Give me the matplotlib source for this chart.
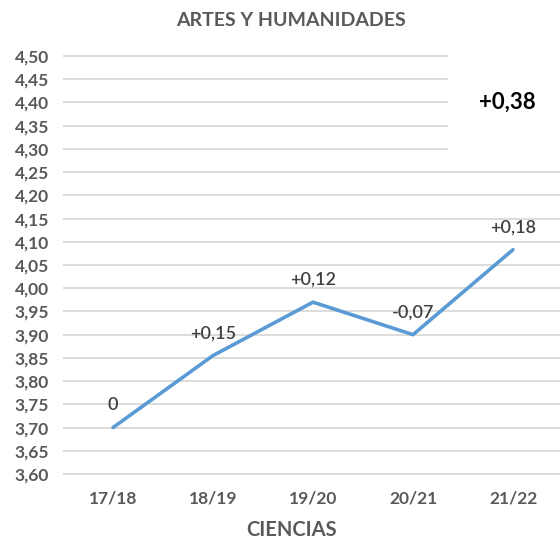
import matplotlib.pyplot as plt

cursos = ['17/18', '18/19', '19/20', '20/21', '21/22']
notas = [3.70, 3.855, 3.97, 3.90, 4.083]
etiquetas = ['0', '+0,15', '+0,12', '-0,07', '+0,18']
total = '+0,38'
y_ticks = [3.60 + 0.05 * i for i in range(19)]

COLOR_LINE = '#5B9BD5'
COLOR_GREY = '#595959'
COLOR_GRID = '#D9D9D9'

plt.rcParams['font.family'] = ['Lato', 'DejaVu Sans']

fig = plt.figure(figsize=(5.6, 5.41), dpi=100)
ax = fig.add_axes([63 / 560, 67 / 541, 497 / 560, 418 / 541])

x = list(range(len(cursos)))
ax.set_xlim(-0.5, 4.47)
ax.set_ylim(3.60, 4.50)

# gridlines, the top ones stop short to leave room for the total
for t in y_ticks:
    xmax = 3.35 if t > 4.28 else 4.47
    ax.hlines(t, -0.5, xmax, color=COLOR_GRID, linewidth=1.3, zorder=1, clip_on=False)

ax.plot(x, notas, color=COLOR_LINE, linewidth=2.6, solid_capstyle='round', zorder=3, clip_on=False)

for xi, yi, lab in zip(x, notas, etiquetas):
    ax.annotate(lab, (xi, yi), xytext=(0, 16), textcoords='offset points',
                ha='center', va='center', fontsize=13, fontweight='semibold',
                color='#404040')

ax.text(3.94, 4.40, total, ha='center', va='center', fontsize=16,
        fontweight='bold', color='black')

ax.set_xticks(x)
ax.set_xticklabels(cursos, fontsize=12.5, fontweight='bold', color=COLOR_GREY)
ax.set_yticks(y_ticks)
ax.set_yticklabels([f'{t:.2f}'.replace('.', ',') for t in y_ticks],
                   fontsize=12.5, fontweight='bold', color=COLOR_GREY)
ax.tick_params(length=0, pad=10)
ax.tick_params(axis='x', pad=12)
for s in ax.spines.values():
    s.set_visible(False)

fig.text(0.52, 1 - 20 / 541, 'ARTES Y HUMANIDADES', ha='center', va='center',
         fontsize=14, fontweight='bold', color=COLOR_GREY)
fig.text(0.52, 1 - 530 / 541, 'CIENCIAS', ha='center', va='center',
         fontsize=14.5, fontweight='bold', color=COLOR_GREY)

fig.savefig('out.png', dpi=100)
